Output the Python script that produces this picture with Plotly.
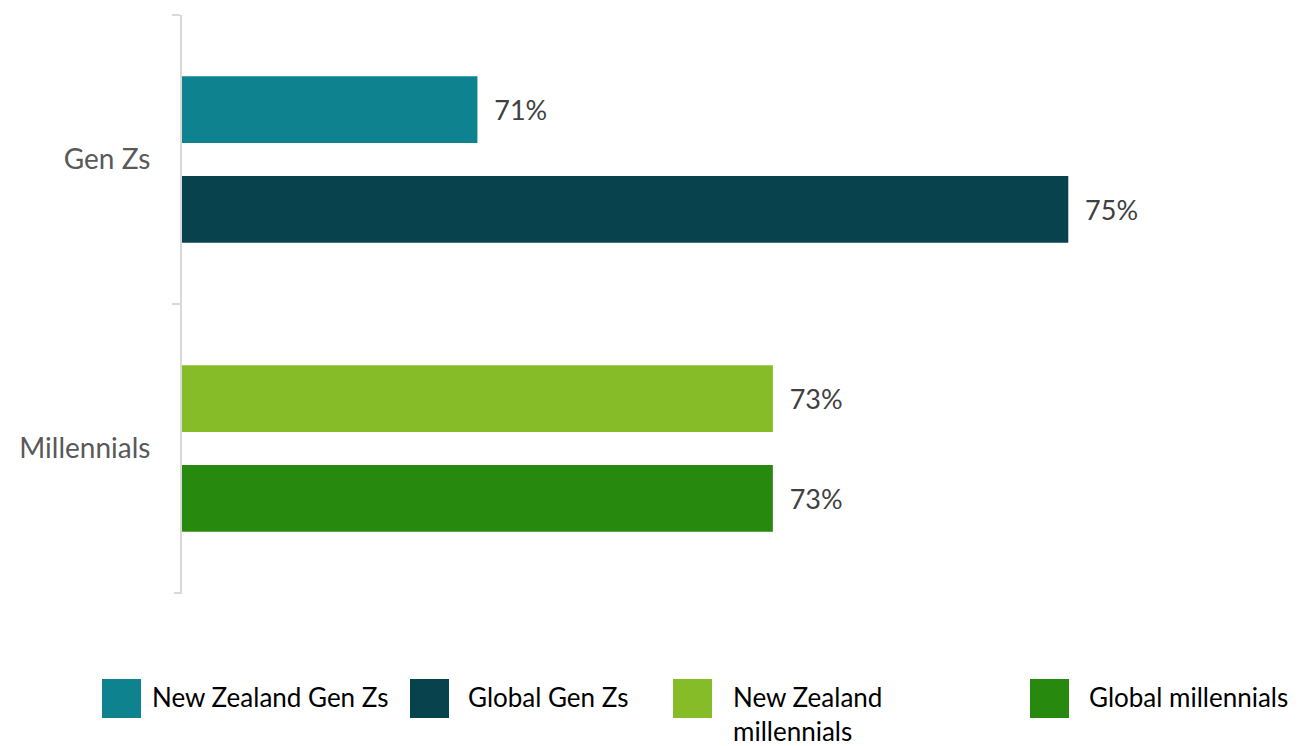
import plotly.graph_objects as go

# ---- data ----
categories = ["Gen Zs", "Millennials"]
series_names = ["New Zealand Gen Zs", "Global Gen Zs", "New Zealand millennials", "Global millennials"]
series_category = ["Gen Zs", "Gen Zs", "Millennials", "Millennials"]
series_values = [71, 75, 73, 73]
series_group = ["nz", "global", "nz", "global"]
series_colors = ["#0E838F", "#08434D", "#86BC27", "#27890E"]
legend_labels = ["New Zealand Gen Zs", "Global Gen Zs", "New Zealand<br>millennials", "Global millennials"]

FONT = "Lato, 'Open Sans', sans-serif"
OFF = 8  # page body margin offset
W, H = 1304 - OFF, 746 - OFF
L, R, T, B = 182 - OFF, 88, 15 - OFF, 153
plot_w = W - L - R
plot_h = H - T - B
TICK_LEN = 8

fig = go.Figure()
for name, cat, val, grp, col in zip(series_names, series_category, series_values, series_group, series_colors):
    fig.add_trace(go.Bar(
        name=name, y=[cat], x=[val], orientation="h",
        offsetgroup=grp, marker=dict(color=col, line=dict(width=0)),
        text=[val], texttemplate="\u00a0\u00a0%{x}%", textposition="outside",
        textfont=dict(family=FONT, size=27, color="#404040"),
        cliponaxis=False, showlegend=False,
    ))

# custom legend with large swatches (pixel positions in the page)
def px_to_paper_x(px):
    return (px - OFF - L) / plot_w

def px_to_paper_y(py):
    return (H - B - (py - OFF)) / plot_h

swatch_x = [102, 410, 673, 1030]
text_x = [152, 468, 733, 1089]
sw_top, sw_bot = 679, 718
shapes = []
annotations = []
for sx, tx, col, lab in zip(swatch_x, text_x, series_colors, legend_labels):
    shapes.append(dict(type="rect", xref="paper", yref="paper",
                       x0=px_to_paper_x(sx), x1=px_to_paper_x(sx + 39),
                       y0=px_to_paper_y(sw_bot), y1=px_to_paper_y(sw_top),
                       fillcolor=col, line=dict(width=0), layer="above"))
    annotations.append(dict(xref="paper", yref="paper",
                            x=px_to_paper_x(tx - 1), y=px_to_paper_y(680),
                            xanchor="left", yanchor="top", align="left",
                            text=lab, showarrow=False, borderpad=0,
                            font=dict(family=FONT, size=26, color="#000000")))

# closing boundary tick at the bottom end of the category axis
shapes.append(dict(type="line", xref="paper", yref="paper",
                   x0=-TICK_LEN / plot_w, x1=0, y0=0, y1=0,
                   line=dict(color="#D9D9D9", width=2), layer="above"))

fig.update_layout(
    width=W, height=H,
    margin=dict(l=L, r=R, t=T, b=B),
    paper_bgcolor="white", plot_bgcolor="white",
    barmode="group", bargap=0.31, bargroupgap=0.33,
    showlegend=False,
    font=dict(family=FONT),
    shapes=shapes, annotations=annotations,
    xaxis=dict(range=[69, 76], visible=False, fixedrange=True),
    yaxis=dict(
        type="category", categoryorder="array", categoryarray=categories,
        range=[1.5, -0.5], tickson="boundaries",
        showline=True, linecolor="#D9D9D9", linewidth=2,
        ticks="outside", ticklen=TICK_LEN, tickcolor="#D9D9D9", tickwidth=2,
        showgrid=False, zeroline=False,
        tickfont=dict(family=FONT, size=28, color="#595959"),
        ticklabelstandoff=24,
    ),
)

fig.write_html("out.html")
